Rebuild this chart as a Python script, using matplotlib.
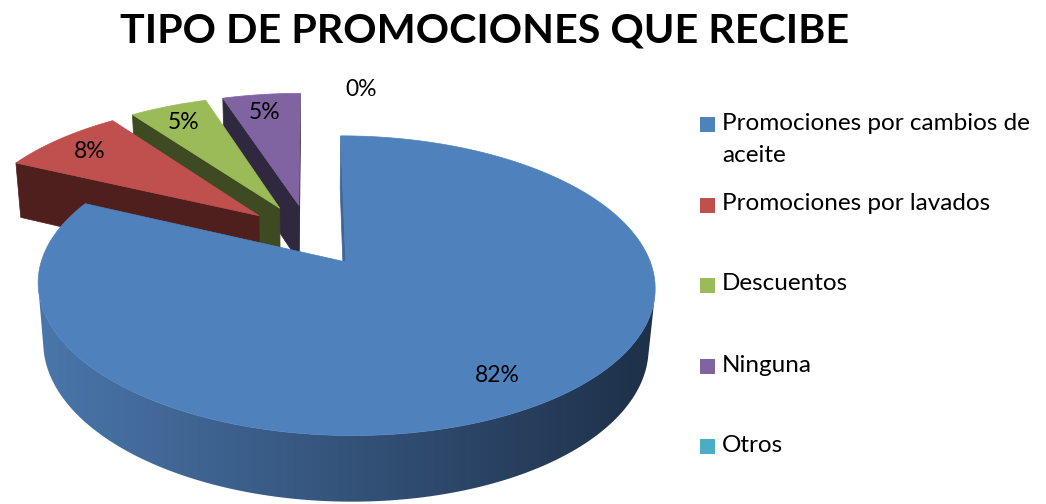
import numpy as np
import matplotlib.pyplot as plt
from matplotlib.patches import Polygon, Rectangle
from matplotlib.colors import LinearSegmentedColormap

# datos
categorias = ["Promociones por cambios de aceite", "Promociones por lavados",
              "Descuentos", "Ninguna", "Otros"]
etiquetas_leyenda = ["Promociones por cambios de\naceite", "Promociones por lavados",
                     "Descuentos", "Ninguna", "Otros"]
valores = [82, 8, 5, 5, 0]

colores = ["#4F81BD", "#C0504D", "#9BBB59", "#8064A2", "#4BACC6"]
colores_lado = ["#3F659A", "#4F1F1E", "#3D4A22", "#30283F", "#1F5868"]

# geometria de la vista 3D (en pixeles)
ELEV = np.radians(27.75)
DIST = 5.75
FOCAL = 1700
CX, CY = 309, 235
GROSOR = 0.225
EXPLOSION = 0.225
CAM = np.array([0.0, -DIST * np.cos(ELEV)])

plt.rcParams['font.family'] = ['Lato', 'DejaVu Sans']


def proyectar(x, y, z):
    w = DIST + y * np.cos(ELEV) - z * np.sin(ELEV)
    v = y * np.sin(ELEV) + z * np.cos(ELEV)
    return np.column_stack([CX + FOCAL * x / w, CY - FOCAL * v / w])


def tramos(mask):
    # indices contiguos donde mask es True
    res, ini = [], None
    for i, m in enumerate(mask):
        if m and ini is None:
            ini = i
        if not m and ini is not None:
            res.append((ini, i))
            ini = None
    if ini is not None:
        res.append((ini, len(mask)))
    return res


fig = plt.figure(figsize=(10.46, 5.04), dpi=100)
ax = fig.add_axes([0, 0, 1, 1])
ax.set_xlim(0, 1046)
ax.set_ylim(504, 0)
ax.axis('off')

total = sum(valores)
porcentajes = [v / total * 100 for v in valores]

# angulos: empieza a las 12 y gira en sentido horario
rebanadas = []
acum = 0
for i, v in enumerate(valores):
    fin = 90 - acum * 3.6
    ini = fin - porcentajes[i] * 3.6
    acum += porcentajes[i]
    medio = np.radians((ini + fin) / 2)
    centro = EXPLOSION * np.array([np.cos(medio), np.sin(medio)])
    rebanadas.append(dict(i=i, ini=np.radians(ini), fin=np.radians(fin),
                          medio=medio, centro=centro))

# de atras hacia adelante
orden = sorted([r for r in rebanadas if valores[r['i']] > 0],
               key=lambda r: -r['centro'][1])

gradiente = LinearSegmentedColormap.from_list('lado', ["#4A76AB", "#1E3049"])

for r in orden:
    i = r['i']
    cx, cy = r['centro']
    t = np.linspace(r['ini'], r['fin'], 300)
    ax_x, ax_y = cx + np.cos(t), cy + np.sin(t)

    # paredes radiales
    for ang, signo in ((r['ini'], -1), (r['fin'], 1)):
        n = np.array([np.cos(ang + signo * np.pi / 2), np.sin(ang + signo * np.pi / 2)])
        if n @ (CAM - r['centro']) > 0:
            ex, ey = cx + np.cos(ang), cy + np.sin(ang)
            pts = proyectar(np.array([cx, ex, ex, cx]), np.array([cy, ey, ey, cy]),
                            np.array([0, 0, -GROSOR, -GROSOR]))
            ax.add_patch(Polygon(pts, closed=True, facecolor=colores_lado[i],
                                 edgecolor=colores_lado[i], lw=0.5))

    # pared exterior visible
    vis = np.cos(t) * (CAM[0] - ax_x) + np.sin(t) * (CAM[1] - ax_y) > 0
    for a, b in tramos(vis):
        arriba = proyectar(ax_x[a:b], ax_y[a:b], np.zeros(b - a))
        abajo = proyectar(ax_x[a:b], ax_y[a:b], -GROSOR * np.ones(b - a))
        pts = np.vstack([arriba, abajo[::-1]])
        if i == 0:
            pared = Polygon(pts, closed=True, facecolor='none', edgecolor='none')
            ax.add_patch(pared)
            x0, x1 = pts[:, 0].min(), pts[:, 0].max()
            y0, y1 = pts[:, 1].min(), pts[:, 1].max()
            img = ax.imshow(np.linspace(0, 1, 256)[None, :], cmap=gradiente,
                            extent=[x0, x1, y1, y0], aspect='auto', zorder=1)
            img.set_clip_path(pared)
        else:
            ax.add_patch(Polygon(pts, closed=True, facecolor=colores_lado[i],
                                 edgecolor=colores_lado[i], lw=0.5, zorder=1))

    # cara superior
    sup = proyectar(np.concatenate([[cx], ax_x]), np.concatenate([[cy], ax_y]),
                    np.zeros(len(t) + 1))
    ax.add_patch(Polygon(sup, closed=True, facecolor=colores[i],
                         edgecolor=colores[i], lw=0.5, zorder=1))

# etiquetas de porcentaje
for r in rebanadas:
    i = r['i']
    texto = f"{porcentajes[i]:.0f}%"
    if valores[i] > 0:
        p = r['centro'] + 0.82 * np.array([np.cos(r['medio']), np.sin(r['medio'])])
        pos = proyectar(np.array([p[0]]), np.array([p[1]]), np.zeros(1))[0]
        ax.text(pos[0] - 3, pos[1], texto, fontsize=16.5, ha='center', va='center', zorder=5)
    else:
        p = r['centro'] + 1.1 * np.array([np.cos(r['medio']), np.sin(r['medio'])])
        pos = proyectar(np.array([p[0]]), np.array([p[1]]), np.zeros(1))[0]
        ax.annotate(texto, xy=pos, xytext=(52, -6), textcoords='offset pixels',
                    fontsize=16.5, ha='center', va='center', zorder=5)

# titulo
ax.text(485, 31, "TIPO DE PROMOCIONES QUE RECIBE", fontsize=29.7, fontweight='bold',
        ha='center', va='center')

# leyenda
filas_leyenda = [124, 205, 285, 366, 446]
for i, etiqueta in enumerate(etiquetas_leyenda):
    y = filas_leyenda[i]
    ax.add_patch(Rectangle((700, y - 7.5), 15, 15, facecolor=colores[i], edgecolor='none'))
    ax.text(722, y - 11.5, etiqueta, fontsize=17.5, ha='left', va='top', linespacing=1.7)

fig.savefig('out.png', dpi=100)
